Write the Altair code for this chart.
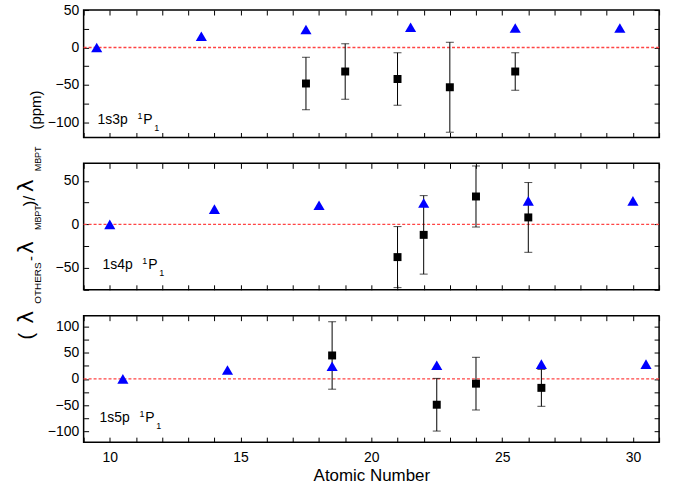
import altair as alt
import pandas as pd

# Atomic-number range shown on every panel
Z_MIN, Z_MAX = 9, 31
X_TICKS = list(range(9, 32))

# 1s3p 1P1: MBPT-relative deviations (ppm)
z3_tri = [9.5, 13.5, 17.5, 21.5, 25.5, 29.5]
d3_tri = [0, 15, 24, 27, 26, 26]
z3_sq = [17.5, 19, 21, 23, 25.5]
d3_sq = [-48, -32, -42, -53, -32]
e3_sq = [35, 37, 35, 60, 25]

# 1s4p 1P1
z4_tri = [10, 14, 18, 22, 26, 30]
d4_tri = [0, 17.5, 22, 24.5, 27, 27]
z4_sq = [21, 22, 24, 26]
d4_sq = [-37.5, -12, 32, 8]
e4_sq = [35, 45, 35, 40]

# 1s5p 1P1
z5_tri = [10.5, 14.5, 18.5, 22.5, 26.5, 30.5]
d5_tri = [0, 17, 24, 26, 28, 28]
z5_sq = [18.5, 22.5, 24, 26.5]
d5_sq = [44.5, -49, -9, -17]
e5_sq = [64, 50, 50, 35]

FONT = "Liberation Sans"
GREEK = "DejaVu Sans"
ONE = pd.DataFrame({"k": [0]})


def text_piece(txt, x, y, size, font=FONT, angle=0, baseline="alphabetic"):
    return alt.Chart(ONE).mark_text(
        text=txt, align="left", baseline=baseline, fontSize=size,
        font=font, color="black", angle=angle,
    ).encode(x=alt.value(x), y=alt.value(y))


def state_label(n, x0, base):
    return [
        text_piece(f"1s{n}p", x0, base, 14),
        text_piece("1", x0 + 40, base - 5, 9),
        text_piece("P", x0 + 46, base, 14),
        text_piece("1", x0 + 57, base + 7, 9),
    ]


def panel(zt, dt, zs, ds, es, ydom, yvals, ylab_step, height, labels, bottom=False, extra=()):
    tri = pd.DataFrame({"z": zt, "d": dt})
    sq = pd.DataFrame({
        "z": zs, "d": ds,
        "lo": [v - e for v, e in zip(ds, es)],
        "hi": [v + e for v, e in zip(ds, es)],
    })
    xs = alt.Scale(domain=[Z_MIN, Z_MAX], nice=False, zero=False)
    ys = alt.Scale(domain=ydom, nice=False, zero=False)

    x_bottom = alt.Axis(
        orient="bottom", values=X_TICKS, offset=-5, tickSize=5,
        labels=bottom, labelExpr="datum.value % 5 === 0 ? datum.label : ''",
        labelOverlap=False, labelFlush=False, labelPadding=8,
        title="Atomic Number" if bottom else None, titlePadding=4,
    )
    y_left = alt.Axis(
        orient="left", values=yvals, offset=-5, tickSize=5,
        labelExpr=f"datum.value % {ylab_step} === 0 ? datum.label : ''",
        labelOverlap=False, labelFlush=False, labelPadding=5, title=None,
    )
    x_top = alt.Axis(orient="top", values=X_TICKS, offset=-5, tickSize=5,
                     labels=False, title=None)
    y_right = alt.Axis(orient="right", values=yvals, offset=-5, tickSize=5,
                       labels=False, title=None)

    zero = alt.Chart(pd.DataFrame({"d": [0]})).mark_rule(
        color="#ff4444", strokeDash=[3, 2], strokeWidth=1.4
    ).encode(y=alt.Y("d:Q", scale=ys, axis=None))

    bars = alt.Chart(sq).mark_rule(color="black", strokeWidth=1).encode(
        x=alt.X("z:Q", scale=xs, axis=None),
        y=alt.Y("lo:Q", scale=ys, axis=None),
        y2="hi:Q",
    )
    cap_lo = alt.Chart(sq).mark_tick(orient="horizontal", size=8, thickness=1, color="black").encode(
        x=alt.X("z:Q", scale=xs, axis=None), y=alt.Y("lo:Q", scale=ys, axis=None))
    cap_hi = alt.Chart(sq).mark_tick(orient="horizontal", size=8, thickness=1, color="black").encode(
        x=alt.X("z:Q", scale=xs, axis=None), y=alt.Y("hi:Q", scale=ys, axis=None))

    squares = alt.Chart(sq).mark_square(size=64, color="black", opacity=1).encode(
        x=alt.X("z:Q", scale=xs, axis=x_top),
        y=alt.Y("d:Q", scale=ys, axis=y_right),
    )
    triangles = alt.Chart(tri).mark_point(
        shape="triangle-up", filled=True, color="#0000ff", size=125, opacity=1
    ).encode(
        x=alt.X("z:Q", scale=xs, axis=x_bottom),
        y=alt.Y("d:Q", scale=ys, axis=y_left),
    )

    layers = [zero, bars, cap_lo, cap_hi, squares, triangles] + list(labels) + list(extra)
    return alt.layer(*layers).resolve_axis(x="independent", y="independent").properties(
        width=578, height=height
    )


# Rotated y title with subscripts, built from pieces read bottom-to-top
LAM_X, MAIN_X, SUB_X = -51, -43, -43
y_title = [
    text_piece("(", LAM_X, 177, 20, angle=270),
    text_piece("λ", LAM_X, 161, 22, font=GREEK, angle=270),
    text_piece("OTHERS", SUB_X, 141, 10, angle=270),
    text_piece("-", MAIN_X - 5, 98, 15, angle=270),
    text_piece("λ", LAM_X, 91, 22, font=GREEK, angle=270),
    text_piece("MBPT", SUB_X, 67, 9, angle=270),
    text_piece(")/", LAM_X + 2, 43, 17, angle=270),
    text_piece("λ", LAM_X, 29, 22, font=GREEK, angle=270),
    text_piece("MBPT", SUB_X, 8, 9, angle=270),
    text_piece("(ppm)", MAIN_X, -34, 15, angle=270),
]

p3 = panel(z3_tri, d3_tri, z3_sq, d3_sq, e3_sq, [-120, 50],
           list(range(-100, 51, 25)), 50, 128, state_label(3, 14, 114))
p4 = panel(z4_tri, d4_tri, z4_sq, d4_sq, e4_sq, [-75, 70],
           list(range(-75, 51, 25)), 50, 127, state_label(4, 19, 106), extra=y_title)
p5 = panel(z5_tri, d5_tri, z5_sq, d5_sq, e5_sq, [-120, 120],
           list(range(-100, 101, 25)), 50, 127, state_label(5, 16, 107), bottom=True)

chart = alt.vconcat(p3, p4, p5, spacing=26, bounds="flush").properties(
    padding={"left": 14, "top": 1, "right": 18, "bottom": 4}
).configure_view(
    stroke="black", strokeWidth=1.5
).configure_axis(
    domain=False, grid=False, tickColor="black", tickWidth=1,
    labelFont=FONT, labelFontSize=14, labelColor="black",
    titleFont=FONT, titleFontSize=17, titleColor="black", titleFontWeight="normal",
)

chart.save("out.html", embed_options={"renderer": "svg", "actions": False})
